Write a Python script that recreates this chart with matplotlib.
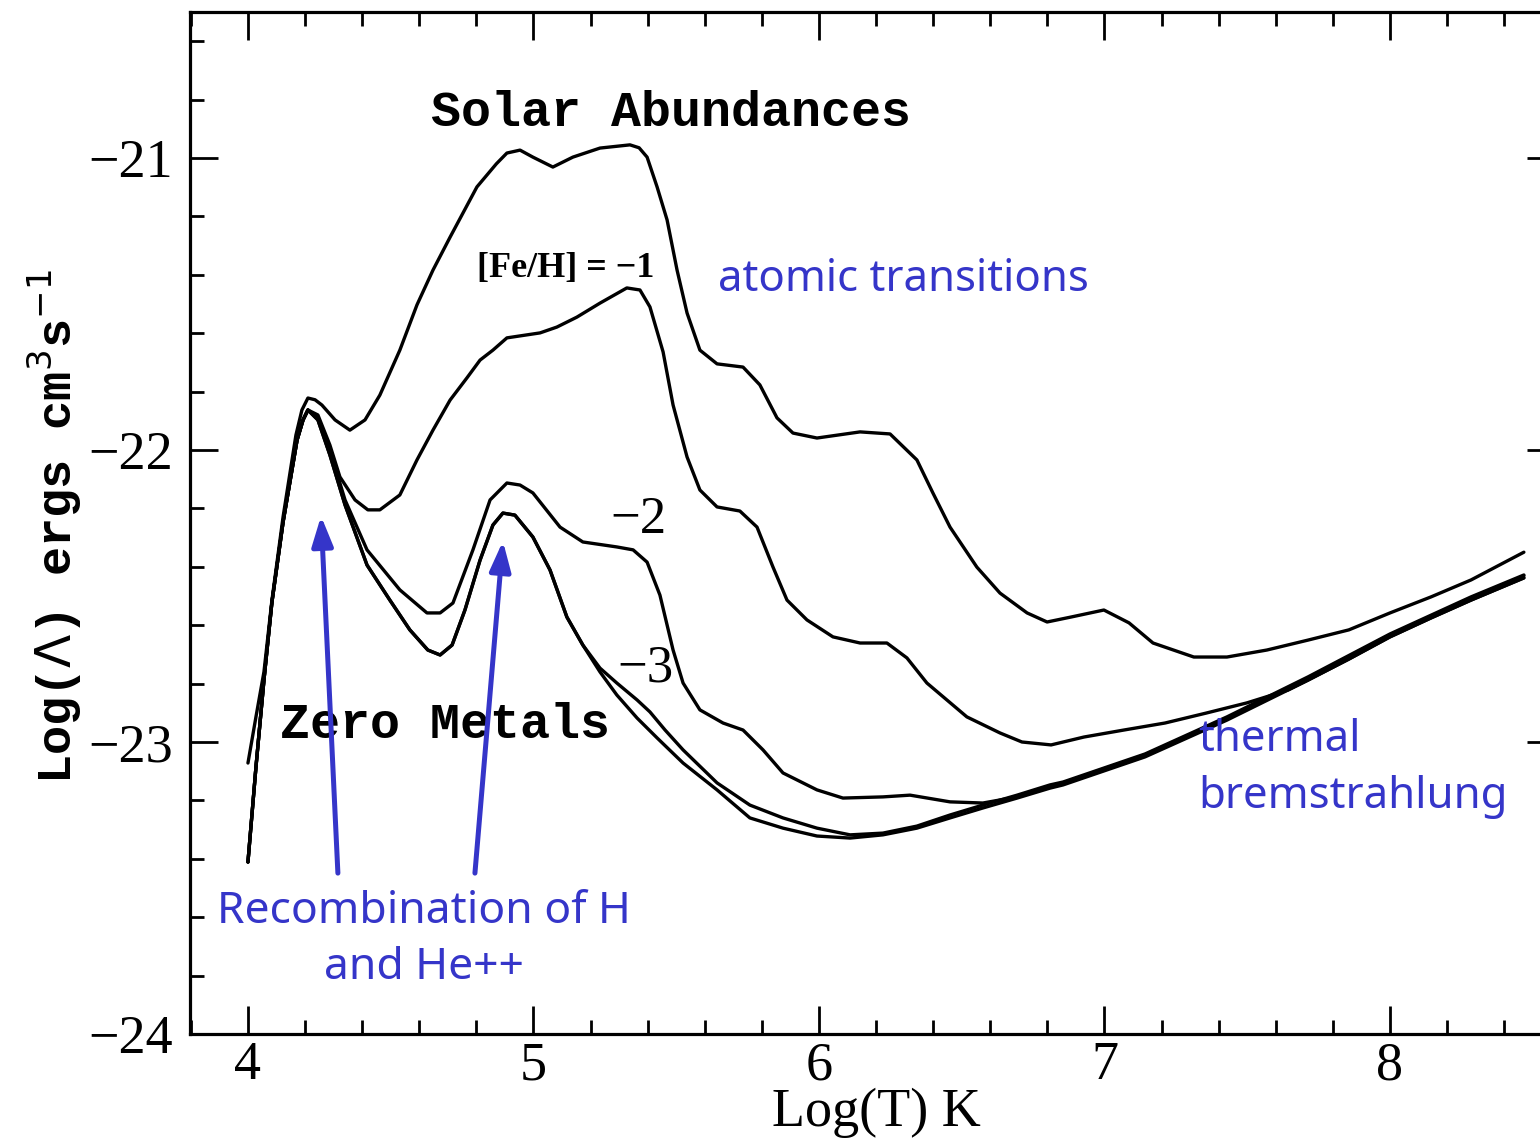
import numpy as np
import matplotlib
matplotlib.use("Agg")
import matplotlib.pyplot as plt
from matplotlib.ticker import MultipleLocator

# Cooling curves: log temperature (K) vs log cooling function
solar_T = [4.000, 4.028, 4.056, 4.084, 4.123, 4.168, 4.189, 4.210, 4.235, 4.259, 4.305,
           4.357, 4.410, 4.462, 4.532, 4.592, 4.648, 4.708, 4.802, 4.870, 4.907, 4.953,
           4.998, 5.068, 5.138, 5.233, 5.338, 5.370, 5.398, 5.433, 5.468, 5.503, 5.538,
           5.583, 5.643, 5.734, 5.793, 5.853, 5.909, 5.993, 6.144, 6.249, 6.343,
           6.399, 6.459, 6.553, 6.634, 6.729, 6.799, 6.883, 6.998, 7.086, 7.170,
           7.313, 7.429, 7.569, 7.713, 7.856, 8.000, 8.144, 8.284, 8.469]
solar_L = [-23.072, -22.914, -22.760, -22.514, -22.229, -21.949, -21.863, -21.822, -21.828, -21.846, -21.897,
           -21.932, -21.897, -21.812, -21.658, -21.503, -21.384, -21.271, -21.099, -21.020, -20.983, -20.973,
           -20.997, -21.031, -20.997, -20.966, -20.955, -20.965, -20.997, -21.099, -21.212, -21.384, -21.531,
           -21.658, -21.705, -21.716, -21.777, -21.890, -21.942, -21.959, -21.938, -21.945, -22.034,
           -22.147, -22.264, -22.401, -22.490, -22.558, -22.589, -22.572, -22.548, -22.592, -22.661,
           -22.709, -22.709, -22.685, -22.651, -22.616, -22.558, -22.503, -22.445, -22.350]

feh1_T = [4.000, 4.028, 4.056, 4.084, 4.123, 4.172, 4.193, 4.210, 4.245, 4.287,
          4.322, 4.375, 4.420, 4.462, 4.532, 4.592, 4.648, 4.708, 4.767, 4.813,
          4.858, 4.907, 5.023, 5.082, 5.152, 5.233, 5.327, 5.373, 5.408, 5.454,
          5.489, 5.538, 5.583, 5.643, 5.723, 5.783, 5.839, 5.888, 5.958, 6.049,
          6.144, 6.238, 6.308, 6.378, 6.448, 6.518, 6.634, 6.711, 6.813, 6.928,
          7.068, 7.212, 7.356, 7.499, 7.643, 7.713, 7.856, 8.000, 8.144, 8.284, 8.469]
feh1_L = [-23.411, -23.086, -22.788, -22.521, -22.247, -21.966, -21.897, -21.863, -21.880, -21.983,
          -22.092, -22.171, -22.205, -22.205, -22.154, -22.034, -21.932, -21.829, -21.753, -21.692,
          -21.658, -21.616, -21.599, -21.579, -21.545, -21.497, -21.445, -21.452, -21.510, -21.664,
          -21.846, -22.024, -22.137, -22.195, -22.209, -22.264, -22.401, -22.514, -22.582, -22.640,
          -22.661, -22.661, -22.712, -22.798, -22.856, -22.914, -22.969, -23.000, -23.010, -22.983,
          -22.959, -22.935, -22.901, -22.866, -22.822, -22.788, -22.716, -22.640, -22.575, -22.514, -22.438]

feh2_T = [4.000, 4.028, 4.056, 4.084, 4.123, 4.172, 4.193, 4.210, 4.245, 4.287,
          4.340, 4.417, 4.532, 4.627, 4.673, 4.718, 4.788, 4.848, 4.907, 4.953,
          4.998, 5.093, 5.173, 5.292, 5.349, 5.398, 5.443, 5.489, 5.524, 5.583,
          5.664, 5.734, 5.804, 5.874, 5.993, 6.084, 6.224, 6.319, 6.459, 6.574,
          6.694, 6.809, 6.855, 7.142, 7.429, 7.713, 8.000, 8.284, 8.469]
feh2_L = [-23.411, -23.086, -22.788, -22.521, -22.247, -21.966, -21.897, -21.863, -21.890, -22.000,
          -22.171, -22.342, -22.479, -22.558, -22.558, -22.524, -22.342, -22.171, -22.113, -22.120,
          -22.147, -22.264, -22.315, -22.332, -22.342, -22.384, -22.497, -22.685, -22.798, -22.890,
          -22.935, -22.959, -23.027, -23.106, -23.164, -23.192, -23.188, -23.182, -23.205, -23.209,
          -23.188, -23.154, -23.140, -23.044, -22.918, -22.781, -22.633, -22.507, -22.431]

feh3_T = [4.000, 4.028, 4.056, 4.084, 4.123, 4.172, 4.193, 4.210, 4.245, 4.287,
          4.340, 4.417, 4.497, 4.567, 4.630, 4.673, 4.715, 4.760, 4.813, 4.858,
          4.893, 4.935, 4.998, 5.058, 5.117, 5.173, 5.233, 5.292, 5.363, 5.408,
          5.461, 5.524, 5.643, 5.758, 5.874, 5.993, 6.109, 6.224, 6.343, 6.459,
          6.574, 6.694, 6.809, 6.855, 7.142, 7.429, 7.713, 8.000, 8.284, 8.469]
feh3_L = [-23.411, -23.086, -22.788, -22.521, -22.247, -21.966, -21.897, -21.863, -21.897, -22.017,
          -22.188, -22.394, -22.514, -22.616, -22.685, -22.702, -22.668, -22.548, -22.377, -22.257,
          -22.216, -22.223, -22.298, -22.411, -22.572, -22.668, -22.747, -22.798, -22.856, -22.897,
          -22.959, -23.027, -23.140, -23.216, -23.260, -23.295, -23.318, -23.312, -23.288, -23.250,
          -23.216, -23.182, -23.147, -23.137, -23.041, -22.914, -22.777, -22.630, -22.503, -22.428]

zero_T = [4.000, 4.028, 4.056, 4.084, 4.123, 4.172, 4.193, 4.210, 4.245, 4.287,
          4.340, 4.417, 4.497, 4.567, 4.630, 4.673, 4.715, 4.760, 4.813, 4.858,
          4.893, 4.935, 4.998, 5.058, 5.117, 5.173, 5.233, 5.292, 5.363, 5.433,
          5.524, 5.643, 5.758, 5.874, 5.993, 6.109, 6.224, 6.343, 6.459, 6.574,
          6.694, 6.809, 6.855, 7.142, 7.429, 7.713, 7.856, 8.000, 8.144, 8.284, 8.469]
zero_L = [-23.411, -23.086, -22.788, -22.521, -22.247, -21.966, -21.897, -21.863, -21.897, -22.017,
          -22.188, -22.394, -22.514, -22.616, -22.685, -22.702, -22.668, -22.548, -22.377, -22.257,
          -22.216, -22.223, -22.298, -22.411, -22.572, -22.668, -22.760, -22.839, -22.918, -22.986,
          -23.072, -23.164, -23.260, -23.295, -23.322, -23.329, -23.318, -23.295, -23.260, -23.226,
          -23.192, -23.158, -23.147, -23.051, -22.925, -22.788, -22.716, -22.640, -22.575, -22.514, -22.438]

x_major = [4, 5, 6, 7, 8]
y_major = [-24, -23, -22, -21]

BLUE = "#3535c9"
INK = "black"

fig = plt.figure(figsize=(15.4, 11.44), dpi=100)
ax = fig.add_axes([190 / 1540, 110 / 1144, 1365 / 1540, 1022 / 1144])

for T, L in [(solar_T, solar_L), (feh1_T, feh1_L), (feh2_T, feh2_L),
             (feh3_T, feh3_L), (zero_T, zero_L)]:
    ax.plot(T, L, color=INK, lw=2.4, solid_joinstyle="round", solid_capstyle="round")

ax.set_xlim(3.797, 8.578)
ax.set_ylim(-24, -20.5)

ax.xaxis.set_major_locator(plt.FixedLocator(x_major))
ax.yaxis.set_major_locator(plt.FixedLocator(y_major))
ax.xaxis.set_minor_locator(MultipleLocator(0.2))
ax.yaxis.set_minor_locator(MultipleLocator(0.2))

for s in ax.spines.values():
    s.set_linewidth(2.3)
ax.tick_params(which="both", direction="in", top=True, right=True, width=2.0, color=INK)
ax.tick_params(which="major", length=20)
ax.tick_params(which="minor", length=10)
ax.tick_params(axis="x", which="major", pad=5)
ax.tick_params(axis="y", which="major", pad=12)

tick_font = {"family": "Liberation Serif", "size": 39}
ax.set_xticklabels([str(v) for v in x_major], fontdict=tick_font)
ax.set_yticklabels(["\u2212%d" % abs(v) for v in y_major], fontdict=tick_font)

ax.set_xlabel("Log(T) K", family="Liberation Serif", fontsize=39)
ax.xaxis.set_label_coords(0.5026, -0.0775)
ax.xaxis.label.set_va("center")

plt.rcParams["mathtext.fontset"] = "custom"
plt.rcParams["mathtext.rm"] = "Liberation Mono:bold"
ax.set_ylabel(r"Log($\Lambda$) ergs cm$^{\mathrm{3}}$s$^{\mathrm{-1}}$",
              family="Liberation Mono", fontweight="bold", fontsize=35)
ax.yaxis.set_label_coords(-0.099, 0.496)
ax.yaxis.label.set_va("center")
ax.yaxis.label.set_rotation_mode("anchor")

mono = dict(family="Liberation Mono", fontweight="bold")
ax.text(5.482, -20.846, "Solar Abundances", ha="center", va="center", fontsize=36, **mono)
ax.text(4.690, -22.942, "Zero Metals", ha="center", va="center", fontsize=36, **mono)
ax.text(5.114, -21.377, "[Fe/H] = \u22121", ha="center", va="center",
        family="Liberation Serif", fontweight="bold", fontsize=26)
ax.text(5.366, -22.240, "\u22122", ha="center", va="center", family="Liberation Serif", fontsize=38)
ax.text(5.391, -22.747, "\u22123", ha="center", va="center", family="Liberation Serif", fontsize=38)

# Blue annotations
blue_font = dict(family="Noto Sans", color=BLUE)
ax.text(5.646, -21.418, "atomic transitions", ha="left", va="center", fontsize=31.5, **blue_font)
ax.text(7.327, -22.993, "thermal", ha="left", va="center", fontsize=31.5, **blue_font)
ax.text(7.327, -23.188, "bremstrahlung", ha="left", va="center", fontsize=31.5, **blue_font)
ax.text(4.616, -23.582, "Recombination of H", ha="center", va="center", fontsize=32, **blue_font)
ax.text(4.616, -23.774, "and He++", ha="center", va="center", fontsize=32, **blue_font)

arrow = dict(arrowstyle="-|>,head_length=0.45,head_width=0.16", color=BLUE, lw=3.6,
             mutation_scale=40, shrinkA=0, shrinkB=0)
ax.annotate("", xy=(4.256, -22.226), xytext=(4.315, -23.449), arrowprops=arrow)
ax.annotate("", xy=(4.893, -22.312), xytext=(4.795, -23.449), arrowprops=arrow)

fig.savefig("out.png", dpi=100)
